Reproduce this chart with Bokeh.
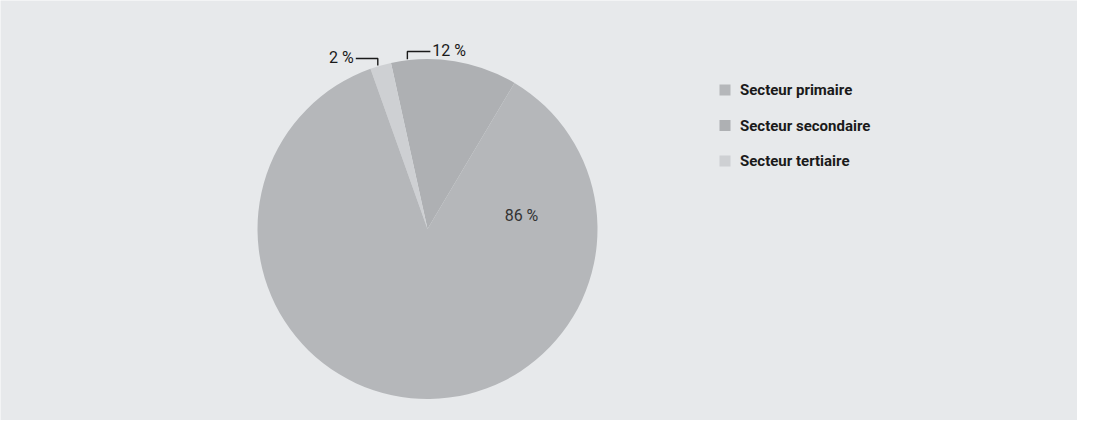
import math
from bokeh.plotting import figure
from bokeh.models import Range1d
from bokeh.core.properties import value
from bokeh.embed import file_html
from bokeh.resources import INLINE

# ---- data ----
sectors = ["Secteur primaire", "Secteur secondaire", "Secteur tertiaire"]
shares = [86, 12, 2]
share_labels = ["86 %", "12 %", "2 %"]
colors = ["#b5b7ba", "#aeb0b3", "#ced0d3"]

W, H = 1077, 420
bg = "#e7e9eb"
p = figure(width=W, height=H, x_range=Range1d(0, W), y_range=Range1d(0, H),
           output_backend="svg", toolbar_location=None, min_border=0)
p.axis.visible = False
p.grid.visible = False
p.outline_line_color = None
p.background_fill_color = bg
p.border_fill_color = bg


def Y(py):
    return H - py


FONT = value("Roboto")

# ---- pie ----
cx, cy, r = 427, Y(228.5), 170
draw_order = [1, 2, 0]  # counter-clockwise: secondaire, tertiaire, primaire
start = math.radians(59.2)
total = sum(shares)
starts, ends, cols = [], [], []
a = start
for i in draw_order:
    span = 2 * math.pi * shares[i] / total
    starts.append(a)
    ends.append(a + span)
    cols.append(colors[i])
    a += span
p.wedge(x=cx, y=cy, radius=r, start_angle=starts, end_angle=ends,
        fill_color=cols, line_color=None)

# ---- labels ----
p.text(x=[521], y=[Y(215)], text=[share_labels[0]], text_font=FONT, text_font_size="16px",
       text_color="#333333", text_align="center", text_baseline="middle")


def edge_point(theta):
    return cx + r * math.cos(theta), cy + r * math.sin(theta)


# 12 % : leader from the top edge, going right to the label
t12 = math.radians(90 + 6.8)
ex, ey = edge_point(t12)
ly = Y(51)
p.line(x=[ex, ex, ex + 23], y=[ey + 1, ly, ly], line_color="#1a1a1a", line_width=1.4)
p.text(x=[ex + 25], y=[ly + 1], text=[share_labels[1]], text_font=FONT, text_font_size="16px",
       text_color="#1a1a1a", text_align="left", text_baseline="alphabetic")

# 2 % : leader from the top edge, going left to the label
t2 = math.radians(90 + 17)
ex2, ey2 = edge_point(t2)
ly2 = Y(58)
p.line(x=[ex2, ex2, ex2 - 22], y=[ey2 + 1, ly2, ly2], line_color="#1a1a1a", line_width=1.4)
p.text(x=[ex2 - 24], y=[ly2 + 1], text=[share_labels[2]], text_font=FONT, text_font_size="16px",
       text_color="#1a1a1a", text_align="right", text_baseline="alphabetic")

# ---- legend ----
leg_x, leg_y0, leg_dy = 724.5, 89.5, 35.5
for k, name in enumerate(sectors):
    yy = Y(leg_y0 + k * leg_dy)
    p.rect(x=[leg_x], y=[yy], width=11, height=11, fill_color=colors[k], line_color=None)
    p.text(x=[leg_x + 15], y=[yy], text=[name], text_font=FONT, text_font_size="15px",
           text_font_style="bold", text_color="#1a1a1a", text_align="left",
           text_baseline="middle")

open("out.html", "w").write(file_html(p, INLINE))
